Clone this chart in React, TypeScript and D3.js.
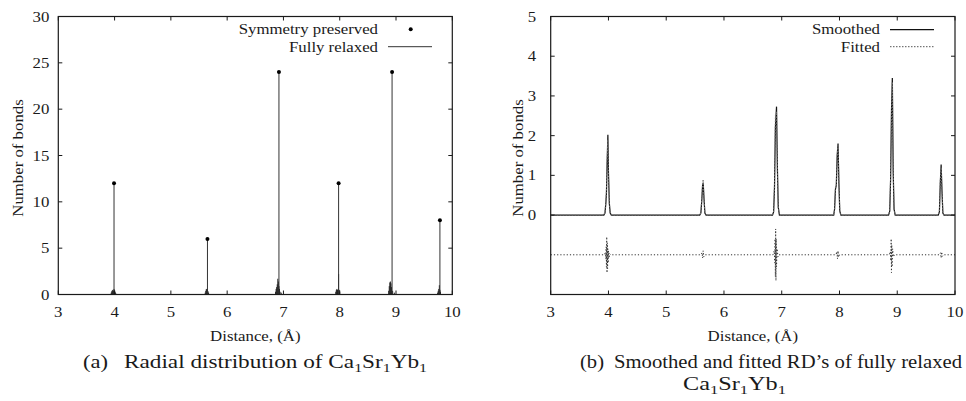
import React from 'react';
import * as d3 from 'd3';

const W = 966;
const H = 401;
const SX = 1.12; // gnuplot's serif is wider than Times, stretch the glyphs a bit
const FONT = "'Liberation Serif', 'Times New Roman', serif";
const INK = '#1a1a1a';

// (a) radial distribution
const symDist = [3.99, 5.65, 6.92, 7.98, 8.93, 9.78];
const symBonds = [12, 6, 24, 12, 24, 8];
const relaxedDist = [
  3.94, 3.95, 3.96, 3.97, 3.98, 3.99, 4.0, 4.01, 4.02,
  5.61, 5.62, 5.63, 5.64, 5.65, 5.66, 5.67,
  6.86, 6.87, 6.88, 6.89, 6.9, 6.91, 6.92, 6.93, 6.94, 6.96,
  7.93, 7.94, 7.95, 7.96, 7.97, 7.98, 7.99, 8.0,
  8.87, 8.88, 8.89, 8.9, 8.91, 8.92, 8.94, 8.97,
  9.74, 9.75, 9.76, 9.77, 9.78, 9.79,
];
const relaxedBonds = [
  0.2, 0.35, 0.45, 0.5, 0.4, 0.6, 0.45, 0.3, 0.15,
  0.2, 0.4, 0.6, 0.5, 0.55, 0.35, 0.2,
  0.3, 0.6, 0.8, 1.1, 1.7, 1.4, 0.9, 0.6, 0.3, 0.2,
  0.3, 0.5, 0.6, 0.5, 0.4, 2.2, 0.5, 0.3,
  0.4, 0.9, 1.3, 1.4, 1.2, 0.8, 0.4, 0.2,
  0.2, 0.4, 0.6, 1.0, 0.5, 0.3,
];

// (b) smoothed / fitted
const smoothDist = [
  3.0, 3.92, 3.94, 3.955, 3.965, 3.975, 3.99, 4.0, 4.015, 4.03, 4.05,
  5.58, 5.6, 5.615, 5.63, 5.64, 5.655, 5.67, 5.69,
  6.84, 6.86, 6.875, 6.89, 6.91, 6.925, 6.94, 6.96,
  7.9, 7.915, 7.93, 7.945, 7.96, 7.975, 7.99, 8.005, 8.025,
  8.85, 8.87, 8.885, 8.9, 8.915, 8.93, 8.945, 8.965,
  9.71, 9.73, 9.745, 9.76, 9.775, 9.79, 9.81, 10.0,
];
const smoothBonds = [
  0, 0, 0.05, 0.3, 0.55, 1.2, 2.02, 1.1, 0.3, 0.05, 0,
  0, 0.05, 0.35, 0.75, 0.82, 0.4, 0.05, 0,
  0, 0.08, 0.7, 2.2, 2.73, 1.2, 0.2, 0,
  0, 0.15, 0.65, 0.75, 1.5, 1.8, 0.8, 0.1, 0,
  0, 0.1, 0.9, 2.6, 3.45, 1.1, 0.15, 0,
  0, 0.08, 0.8, 1.27, 0.6, 0.05, 0, 0,
];
const fittedBonds = [
  0, 0, 0.08, 0.35, 0.6, 1.3, 1.9, 1.0, 0.3, 0.04, 0,
  0, 0.06, 0.4, 0.8, 0.9, 0.38, 0.04, 0,
  0, 0.1, 0.8, 2.5, 2.6, 1.1, 0.18, 0,
  0, 0.14, 0.7, 0.72, 1.45, 1.75, 0.85, 0.1, 0,
  0, 0.12, 0.95, 2.5, 3.35, 1.15, 0.14, 0,
  0, 0.1, 0.85, 1.2, 0.62, 0.05, 0, 0,
];
// difference curve, drawn shifted down to -1
const residDist = [
  3.0, 3.93, 3.945, 3.955, 3.96, 3.965, 3.97, 3.975, 3.98, 3.985, 3.99, 3.995, 4.0, 4.01, 4.02, 4.04,
  5.6, 5.62, 5.63, 5.64, 5.65, 5.67,
  6.85, 6.87, 6.88, 6.885, 6.89, 6.895, 6.9, 6.905, 6.91, 6.92, 6.935, 6.95,
  7.94, 7.955, 7.965, 7.975, 7.985, 8.0,
  8.86, 8.88, 8.89, 8.895, 8.9, 8.905, 8.91, 8.92, 8.935, 8.95,
  9.73, 9.75, 9.76, 9.77, 9.78, 9.8, 10.0,
];
const residBonds = [
  -1, -1, -0.95, -1.1, -0.8, -1.3, -0.55, -1.45, -0.7, -1.35, -0.85, -1.2, -0.9, -1.08, -0.97, -1,
  -1, -0.95, -1.08, -0.9, -1.05, -1,
  -1, -0.9, -1.2, -0.6, -1.55, -0.35, -1.65, -0.6, -1.3, -0.85, -1.05, -1,
  -1, -0.92, -1.1, -0.9, -1.06, -1,
  -1, -0.92, -1.15, -0.6, -1.45, -0.75, -1.3, -0.85, -1.05, -1,
  -1, -0.95, -1.08, -0.93, -1.04, -1, -1,
];

const xTicks = [3, 4, 5, 6, 7, 8, 9, 10];
const yTicksA = [0, 5, 10, 15, 20, 25, 30];
const yTicksB = [0, 1, 2, 3, 4, 5];

const T = ({ x, y, anchor = 'middle', size = 15, sx = SX, rot = false, len, children }: any) => (
  <text
    transform={`translate(${x},${y})${rot ? ' rotate(-90)' : ''} scale(${sx},1)`}
    textAnchor={anchor}
    fontSize={size}
    fontFamily={FONT}
    fill={INK}
    textLength={len ? len / sx : undefined}
    lengthAdjust={len ? 'spacingAndGlyphs' : undefined}
  >
    {children}
  </text>
);

const Frame = ({ x, y, yTicks, yLabelOff }: any) => {
  const [x0, x1] = x.range();
  const [y1, y0] = y.range();
  return (
    <g>
      {xTicks.map((t) => (
        <g key={'x' + t}>
          <line x1={x(t)} x2={x(t)} y1={y1} y2={y1 - 4} stroke={INK} />
          <line x1={x(t)} x2={x(t)} y1={y0} y2={y0 + 4} stroke={INK} />
          <T x={x(t)} y={y1 + 22}>{t}</T>
        </g>
      ))}
      {yTicks.map((t: number) => (
        <g key={'y' + t}>
          <line x1={x0} x2={x0 + 4} y1={y(t)} y2={y(t)} stroke={INK} />
          <line x1={x1} x2={x1 - 4} y1={y(t)} y2={y(t)} stroke={INK} />
          <T x={x0 - yLabelOff} y={y(t) + 5} anchor="end">{t}</T>
        </g>
      ))}
      <rect x={x0} y={y0} width={x1 - x0} height={y1 - y0} fill="none" stroke={INK} strokeWidth={1.2} />
    </g>
  );
};

const Sub = ({ children }: any) => (
  <tspan fontSize={13} dy={4}>{children}</tspan>
);
const Up = ({ children }: any) => <tspan dy={-4}>{children}</tspan>;

export default function App() {
  const xa = d3.scaleLinear().domain([3, 10]).range([58.3, 452.3]);
  const ya = d3.scaleLinear().domain([0, 30]).range([294.5, 16.5]);
  const xb = d3.scaleLinear().domain([3, 10]).range([550.7, 955]);
  const yb = d3.scaleLinear().domain([-2, 5]).range([294.5, 16.5]);

  const line = d3
    .line<[number, number]>()
    .x((d) => xb(d[0]))
    .y((d) => yb(d[1]));
  const smoothPath = line(smoothDist.map((d, i) => [d, smoothBonds[i]]));
  const fittedPath = line(smoothDist.map((d, i) => [d, fittedBonds[i]]));
  const residPath = line(residDist.map((d, i) => [d, residBonds[i]]));

  return (
    <svg width={W} height={H} style={{ position: 'absolute', left: 0, top: 0, background: '#fff' }}>
      {/* panel (a) */}
      {relaxedDist.map((d, i) => (
        <line key={'r' + i} x1={xa(d)} x2={xa(d)} y1={ya(0)} y2={ya(relaxedBonds[i])} stroke="#222" strokeWidth={1} />
      ))}
      {symDist.map((d, i) => (
        <g key={'s' + i}>
          <line x1={xa(d)} x2={xa(d)} y1={ya(0)} y2={ya(symBonds[i])} stroke="#333" strokeWidth={1} />
          <circle cx={xa(d)} cy={ya(symBonds[i])} r={2} fill="#000" />
        </g>
      ))}
      <Frame x={xa} y={ya} yTicks={yTicksA} yLabelOff={9} />
      <T x={378} y={34} anchor="end">Symmetry preserved</T>
      <circle cx={410.7} cy={29.3} r={2} fill="#000" />
      <T x={378} y={52} anchor="end">Fully relaxed</T>
      <line x1={388} x2={432} y1={46.7} y2={46.7} stroke="#333" />
      <T x={23} y={158} rot>Number of bonds</T>
      <T x={255.3} y={341}>Distance, (Å)</T>

      {/* panel (b) */}
      <path d={smoothPath || ''} fill="none" stroke="#111" strokeWidth={1.2} />
      <path d={fittedPath || ''} fill="none" stroke="#777" strokeWidth={1} strokeDasharray="1.5,1.5" />
      <path d={residPath || ''} fill="none" stroke="#333" strokeWidth={1} strokeDasharray="1.2,2" />
      <Frame x={xb} y={yb} yTicks={yTicksB} yLabelOff={14.5} />
      <T x={880} y={34} anchor="end">Smoothed</T>
      <line x1={890} x2={934} y1={29.7} y2={29.7} stroke="#111" strokeWidth={1.2} />
      <T x={880} y={52} anchor="end">Fitted</T>
      <line x1={890} x2={934} y1={46.7} y2={46.7} stroke="#555" strokeDasharray="1.5,1.5" />
      <T x={523} y={158} rot>Number of bonds</T>
      <T x={752.8} y={341}>Distance, (Å)</T>

      {/* captions */}
      <T x={83} y={368} anchor="start" size={19} sx={1} len={25}>(a)</T>
      <T x={124} y={368} anchor="start" size={19} sx={1} len={303}>
        Radial distribution of Ca<Sub>1</Sub><Up>Sr</Up><Sub>1</Sub><Up>Yb</Up><Sub>1</Sub>
      </T>
      <T x={580} y={368} anchor="start" size={19} sx={1} len={24}>(b)</T>
      <T x={614} y={368} anchor="start" size={19} sx={1} len={348}>Smoothed and fitted RD’s of fully relaxed</T>
      <T x={683} y={390} anchor="start" size={19} sx={1} len={103}>
        Ca<Sub>1</Sub><Up>Sr</Up><Sub>1</Sub><Up>Yb</Up><Sub>1</Sub>
      </T>
    </svg>
  );
}
